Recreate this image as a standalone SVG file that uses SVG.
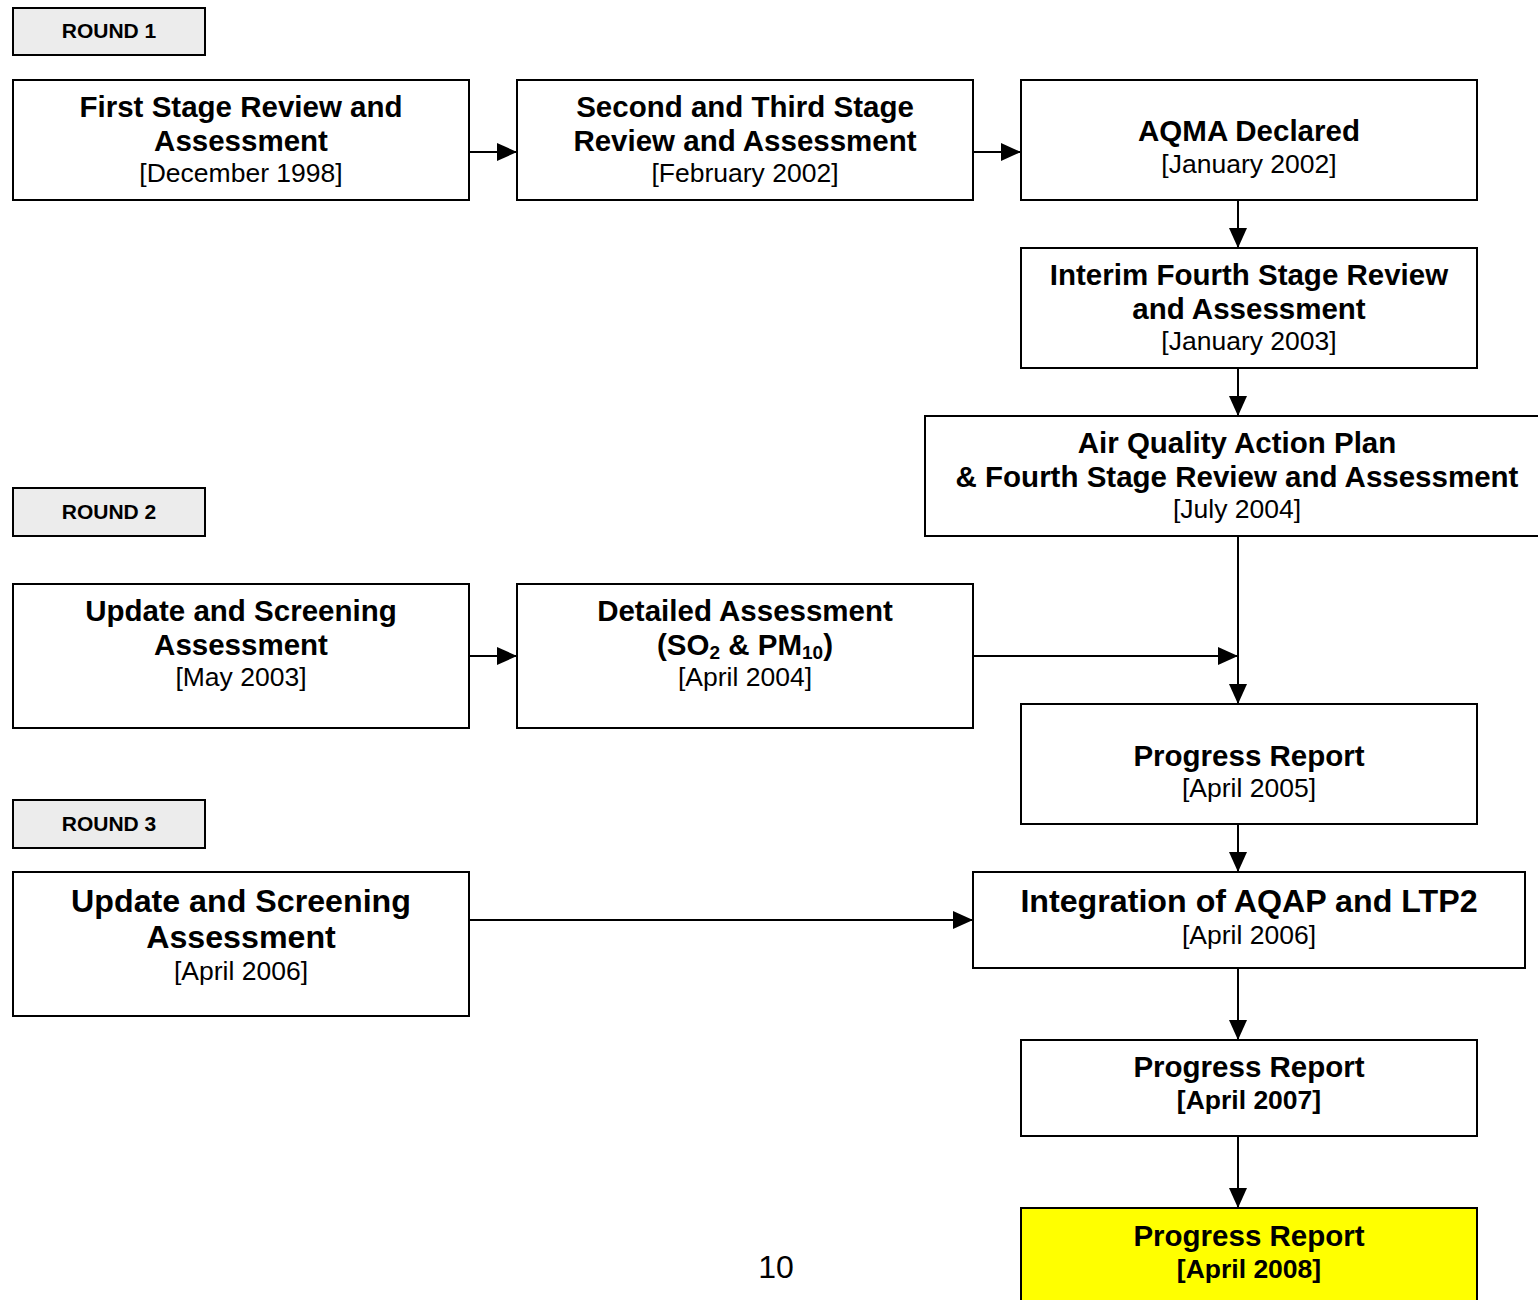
<svg xmlns="http://www.w3.org/2000/svg" width="1538" height="1300" viewBox="0 0 1538 1300">
<style>
.box{fill:#fff;stroke:#000;stroke-width:2}
.rnd{fill:#ececec;stroke:#000;stroke-width:2}
.yel{fill:#ffff00;stroke:#000;stroke-width:2}
text{font-family:"Liberation Sans",Arial,sans-serif;text-anchor:middle;fill:#000}
.b{font-weight:bold;font-size:29.5px}
.bl{font-weight:bold;font-size:32.2px}
.r{font-size:26.5px}
.rb{font-size:26.5px;font-weight:bold}
.lab{font-weight:bold;font-size:21px}
.con{stroke:#000;stroke-width:2;fill:none;marker-end:url(#ah)}
</style>
<defs>
<marker id="ah" markerWidth="20" markerHeight="18" refX="20" refY="9" orient="auto" markerUnits="userSpaceOnUse">
<path d="M0,0 L20,9 L0,18 Z" fill="#000"/>
</marker>
</defs>
<rect width="1538" height="1300" fill="#fff"/>
<g id="connectors">
<line class="con" x1="469" y1="152" x2="517" y2="152"/>
<line class="con" x1="973" y1="152" x2="1021" y2="152"/>
<line class="con" x1="1238" y1="200" x2="1238" y2="248"/>
<line class="con" x1="1238" y1="368" x2="1238" y2="416"/>
<line class="con" x1="1238" y1="536" x2="1238" y2="704"/>
<line class="con" x1="469" y1="656" x2="517" y2="656"/>
<line class="con" x1="973" y1="656" x2="1238" y2="656"/>
<line class="con" x1="1238" y1="824" x2="1238" y2="872"/>
<line class="con" x1="469" y1="920" x2="973" y2="920"/>
<line class="con" x1="1238" y1="968" x2="1238" y2="1040"/>
<line class="con" x1="1238" y1="1136" x2="1238" y2="1208"/>
</g>
<g id="round1"><rect class="rnd" x="13" y="8" width="192" height="47"/><text class="lab" x="109" y="38">ROUND 1</text></g>
<g id="round2"><rect class="rnd" x="13" y="488" width="192" height="48"/><text class="lab" x="109" y="519">ROUND 2</text></g>
<g id="round3"><rect class="rnd" x="13" y="800" width="192" height="48"/><text class="lab" x="109" y="831">ROUND 3</text></g>
<g id="first"><rect class="box" x="13" y="80" width="456" height="120"/>
<text class="b" x="241" y="117">First Stage Review and</text><text class="b" x="241" y="151">Assessment</text><text class="r" x="241" y="182">[December 1998]</text></g>
<g id="second"><rect class="box" x="517" y="80" width="456" height="120"/>
<text class="b" x="745" y="117">Second and Third Stage</text><text class="b" x="745" y="151">Review and Assessment</text><text class="r" x="745" y="182">[February 2002]</text></g>
<g id="aqma"><rect class="box" x="1021" y="80" width="456" height="120"/>
<text class="b" x="1249" y="141">AQMA Declared</text><text class="r" x="1249" y="173">[January 2002]</text></g>
<g id="interim"><rect class="box" x="1021" y="248" width="456" height="120"/>
<text class="b" x="1249" y="285">Interim Fourth Stage Review</text><text class="b" x="1249" y="319">and Assessment</text><text class="r" x="1249" y="350">[January 2003]</text></g>
<g id="aqap"><rect class="box" x="925" y="416" width="640" height="120"/>
<text class="b" x="1237" y="453">Air Quality Action Plan</text><text class="b" x="1237" y="487">&amp; Fourth Stage Review and Assessment</text><text class="r" x="1237" y="518">[July 2004]</text></g>
<g id="usa2003"><rect class="box" x="13" y="584" width="456" height="144"/>
<text class="b" x="241" y="621">Update and Screening</text><text class="b" x="241" y="655">Assessment</text><text class="r" x="241" y="686">[May 2003]</text></g>
<g id="detailed"><rect class="box" x="517" y="584" width="456" height="144"/>
<text class="b" x="745" y="621">Detailed Assessment</text><text class="b" x="745" y="655">(SO<tspan font-size="19" dy="4">2</tspan><tspan dy="-4"> &amp; PM</tspan><tspan font-size="19" dy="4">10</tspan><tspan dy="-4">)</tspan></text><text class="r" x="745" y="686">[April 2004]</text></g>
<g id="pr2005"><rect class="box" x="1021" y="704" width="456" height="120"/>
<text class="b" x="1249" y="766">Progress Report</text><text class="r" x="1249" y="797">[April 2005]</text></g>
<g id="usa2006"><rect class="box" x="13" y="872" width="456" height="144"/>
<text class="bl" x="241" y="912">Update and Screening</text><text class="bl" x="241" y="948">Assessment</text><text class="r" x="241" y="980">[April 2006]</text></g>
<g id="integration"><rect class="box" x="973" y="872" width="552" height="96"/>
<text class="bl" x="1249" y="912">Integration of AQAP and LTP2</text><text class="r" x="1249" y="944">[April 2006]</text></g>
<g id="pr2007"><rect class="box" x="1021" y="1040" width="456" height="96"/>
<text class="b" x="1249" y="1077">Progress Report</text><text class="rb" x="1249" y="1109">[April 2007]</text></g>
<g id="pr2008"><rect class="yel" x="1021" y="1208" width="456" height="110"/>
<text class="b" x="1249" y="1246">Progress Report</text><text class="rb" x="1249" y="1278">[April 2008]</text></g>
<text x="776" y="1278" font-size="32" style="font-family:'Liberation Sans',Arial,sans-serif">10</text>
</svg>
